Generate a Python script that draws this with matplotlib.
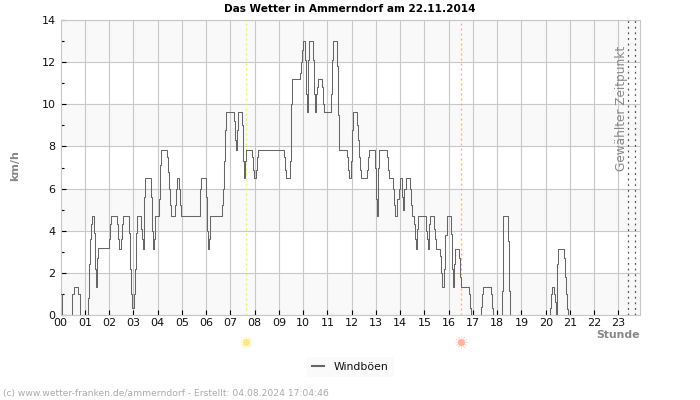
import matplotlib
matplotlib.use("Agg")
import matplotlib.pyplot as plt
from matplotlib.ticker import MultipleLocator
from matplotlib.lines import Line2D

times = [0,0.05,0.47,0.55,0.73,0.8,1.13,1.17,1.21,1.25,1.3,1.38,1.42,1.46,1.49,1.52,1.56,2.0,2.04,2.08,
2.33,2.37,2.41,2.49,2.53,2.58,2.82,2.87,2.92,2.96,3.02,3.06,3.11,3.15,3.32,3.36,3.4,3.44,3.48,3.75,3.79,3.83,3.86,3.9,
4.06,4.1,4.15,4.41,4.45,4.49,4.53,4.57,4.74,4.78,4.82,4.9,4.94,4.98,5.73,5.77,5.81,6.0,6.04,6.09,6.12,6.15,6.18,
6.67,6.71,6.75,6.79,6.83,7.16,7.2,7.24,7.29,7.33,7.49,7.54,7.58,7.62,7.66,7.91,7.95,7.99,8.07,8.11,8.15,
9.23,9.27,9.31,9.47,9.51,9.55,9.88,9.93,9.97,10.01,10.09,10.13,10.17,10.21,10.26,10.42,10.46,10.5,10.53,10.57,10.6,10.76,10.8,10.85,
11.16,11.2,11.24,11.41,11.45,11.49,11.82,11.86,11.9,11.98,12.03,12.07,12.23,12.27,12.32,12.36,12.4,12.65,12.69,12.73,12.98,13.02,13.06,13.1,13.14,
13.47,13.51,13.55,13.72,13.76,13.8,13.88,13.96,14.0,14.09,14.13,14.17,14.25,14.42,14.46,14.5,14.58,14.62,14.66,14.7,14.75,
15.08,15.12,15.16,15.2,15.24,15.41,15.45,15.49,15.64,15.68,15.72,15.82,15.86,15.92,16.08,16.12,16.16,16.2,16.25,16.41,16.45,16.49,
16.82,16.87,16.91,17.32,17.36,17.4,17.73,17.77,17.81,18.18,18.22,18.26,18.43,18.47,18.51,20.16,20.2,20.25,20.33,20.37,20.41,20.45,20.49,20.74,20.78,20.82,20.87,20.91]
gusts = [1.0,0,1.0,1.35,1.0,0,0.8,2.4,3.6,4.3,4.7,3.9,2.2,1.35,1.8,2.7,3.2,3.6,4.3,4.7,
4.3,3.6,3.15,3.6,4.3,4.7,3.9,2.2,1.0,0.35,1.0,2.2,3.9,4.7,4.1,3.6,3.15,5.6,6.5,5.6,4.0,3.15,3.6,4.7,
5.5,7.1,7.85,7.5,6.8,6.0,5.2,4.7,5.2,6.0,6.5,6.0,5.2,4.7,5.2,6.0,6.5,5.6,4.0,3.15,3.6,4.3,4.7,
5.2,6.0,7.3,8.8,9.65,9.2,8.3,7.85,8.8,9.65,9.0,7.3,6.5,7.3,7.85,7.5,6.9,6.5,6.9,7.5,7.85,
7.5,6.9,6.5,7.3,10.0,11.2,11.5,12.0,12.6,13.0,12.1,10.5,9.65,12.1,13.0,12.1,10.5,9.65,10.5,10.8,11.2,10.8,10.0,9.65,
10.5,12.1,13.0,11.8,9.5,7.85,7.5,6.9,6.5,7.3,8.8,9.65,9.0,8.3,7.5,6.9,6.5,6.9,7.5,7.85,7.0,5.5,4.7,7.0,7.85,
7.5,6.9,6.5,6.0,5.2,4.7,5.5,6.0,6.5,5.6,5.0,6.0,6.5,6.0,5.2,4.7,4.3,3.6,3.15,4.1,4.7,
4.0,3.6,3.15,4.3,4.7,4.1,3.6,3.15,2.8,2.0,1.35,2.2,3.8,4.7,3.85,2.2,1.35,2.4,3.15,2.7,1.8,1.35,
1.0,0.35,0,0.4,1.0,1.35,1.0,0.35,0,1.15,3.5,4.7,3.5,1.15,0,0.35,1.0,1.35,1.0,0.6,0,2.4,3.15,2.7,1.8,1.0,0.3,0]
hour_labels = [f"{h:02d}" for h in range(24)]
sunrise = 7.65
sunset = 16.5
selected = [23.41, 23.67]

GREY = "#666666"
fig = plt.figure(figsize=(7, 4), dpi=100)
L, R, T, B = 60.5, 640.3, 20.0, 315.0
ax = fig.add_axes([L/700, 1-B/400, (R-L)/700, (B-T)/400])
ax.set_xlim(0, 23.9)
ax.set_ylim(0, 14)

for y0 in (0, 4, 8, 12):
    ax.axhspan(y0, y0+2, color="#f9f9f9", lw=0, zorder=0)
ax.set_xticks(range(24))
ax.set_xticklabels(hour_labels)
ax.yaxis.set_major_locator(MultipleLocator(2))
ax.yaxis.set_minor_locator(MultipleLocator(1))
ax.grid(True, which="major", color="#c8c8c8", lw=0.8, zorder=1)
ax.set_axisbelow(True)
for s in ax.spines.values():
    s.set_color("#c8c8c8"); s.set_linewidth(0.8)
ax.tick_params(axis="x", which="major", direction="in", length=3.5, width=0.8, color="black", labelsize=8, pad=2.5, labelcolor="#111111")
ax.tick_params(axis="y", which="major", direction="in", length=3.5, width=0.8, color="black", labelsize=8, pad=3.5, labelcolor="#111111")
ax.tick_params(axis="y", which="minor", direction="in", length=2.5, width=0.8, color="black")

ax.axvline(sunrise, color="#f5e960", ls=(0, (1.5, 2.5)), lw=0.9, zorder=2)
ax.axvline(sunset, color="#ffb347", ls=(0, (1.5, 2.5)), lw=0.9, zorder=2)
for s in selected:
    ax.axvline(s, color="#555555", ls=(0, (1.5, 3)), lw=0.9, zorder=2)

line, = ax.plot(times, gusts, drawstyle="steps-post", color=GREY, lw=0.75, zorder=3)

trans = ax.get_xaxis_transform()
for t, c, c2 in ((sunrise, "#ffe68c", "#fff2c0"), (sunset, "#ffb39c", "#ffdccf")):
    ax.plot([t], [-0.09], transform=trans, marker=(12, 2, 0), ms=8.5, mew=0.6, color=c2, clip_on=False, zorder=5)
    ax.plot([t], [-0.09], transform=trans, marker="o", ms=5, mew=0, color=c, clip_on=False, zorder=6)

fig.text(223.5/700, 1-9/400, "Das Wetter in Ammerndorf am 22.11.2014", fontsize=7.6, fontweight="bold", color="black", va="center", ha="left")
fig.text(15.5/700, 1-166/400, "km/h", fontsize=8, fontweight="bold", color="#888888", rotation=90, va="center", ha="center")
fig.text(639.5/700, 1-334.5/400, "Stunde", fontsize=7.8, fontweight="bold", color="#888888", va="center", ha="right")
fig.text(621/700, 1-108/400, "Gewählter Zeitpunkt", fontsize=8.7, color="#888888", rotation=90, va="center", ha="center")
fig.text(3/700, 1-393.5/400, "(c) www.wetter-franken.de/ammerndorf - Erstellt: 04.08.2024 17:04:46", fontsize=6.6, color="#aaaaaa", va="center", ha="left")

leg = fig.legend([Line2D([0], [0], color=GREY, lw=1.5)], ["Windböen"], loc="center", bbox_to_anchor=(350.5/700, 1-367/400),
                 fontsize=7.8, frameon=True, facecolor="#f9f9f9", edgecolor="#f9f9f9", fancybox=False,
                 handlelength=1.1, handletextpad=0.9, borderpad=0.45, labelcolor="#111111")
leg.get_frame().set_linewidth(0)
fig.savefig("out.png", dpi=100)
